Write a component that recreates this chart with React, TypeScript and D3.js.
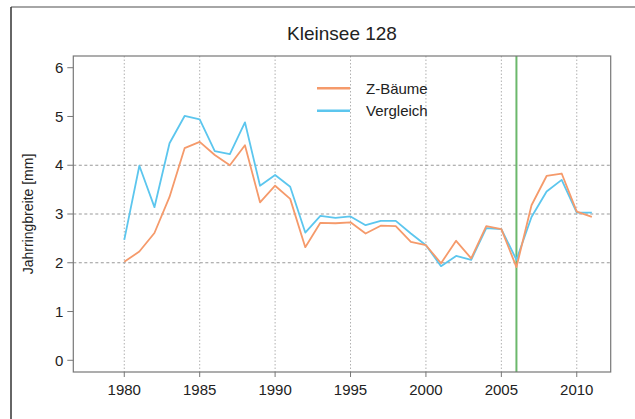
import React from "react";
import * as d3 from "d3";

const years = [1980,1981,1982,1983,1984,1985,1986,1987,1988,1989,1990,1991,1992,1993,1994,1995,1996,1997,1998,1999,2000,2001,2002,2003,2004,2005,2006,2007,2008,2009,2010,2011];
const zBaeume = [2.02,2.23,2.61,3.35,4.35,4.48,4.21,4.0,4.41,3.24,3.58,3.31,2.32,2.82,2.81,2.83,2.6,2.76,2.75,2.43,2.36,1.99,2.45,2.09,2.75,2.69,1.91,3.18,3.78,3.83,3.05,2.94];
const vergleich = [2.47,3.99,3.14,4.45,5.01,4.94,4.29,4.23,4.88,3.58,3.8,3.56,2.62,2.96,2.92,2.95,2.77,2.86,2.86,2.6,2.36,1.93,2.14,2.06,2.71,2.69,2.06,2.94,3.46,3.7,3.03,3.03];
const xTicks = [1980,1985,1990,1995,2000,2005,2010];
const yTicks = [0,1,2,3,4,5,6];
const hGrid = [2,3,4];
const markerYear = 2006;
const title = "Kleinsee 128";
const yLabel = "Jahrringbreite [mm]";
const seriesNames = ["Z-Bäume", "Vergleich"];

const W = 635, H = 419;
const L = 73.3, R = 610.7, T = 56, B = 372;
const ORANGE = "#f59a6b";
const BLUE = "#5cc6ee";
const GREEN = "#6cb86c";
const FONT = "'Liberation Sans', Arial, Helvetica, sans-serif";

export default function App() {
  const x = d3.scaleLinear().domain([1976.62, 2012.25]).range([L, R]);
  const y = d3.scaleLinear().domain([-0.24, 6.24]).range([B, T]);
  const line = d3.line<number>().x((_, i) => x(years[i])).y((v) => y(v));

  return (
    <svg width={W} height={H} style={{ position: "absolute", left: 0, top: 0, background: "#fff" }} fontFamily={FONT}>
      <rect x={0} y={0} width={W} height={H} fill="#fff" />
      {/* outer frame */}
      <line x1={11} y1={7} x2={W} y2={7} stroke="#888" strokeWidth={1.5} />
      <line x1={11} y1={7} x2={11} y2={H} stroke="#333" strokeWidth={1.5} />

      {/* vertical grid */}
      {xTicks.map((t) => (
        <line key={"vg" + t} x1={x(t)} x2={x(t)} y1={T} y2={B} stroke="#b0b0b0" strokeWidth={1} strokeDasharray="1.5,2" />
      ))}
      {/* horizontal grid */}
      {hGrid.map((t) => (
        <line key={"hg" + t} x1={L} x2={R} y1={y(t)} y2={y(t)} stroke="#999" strokeWidth={1.2} strokeDasharray="3,2.5" />
      ))}

      {/* marker year */}
      <line x1={x(markerYear)} x2={x(markerYear)} y1={T} y2={B} stroke={GREEN} strokeWidth={2} />

      {/* series */}
      <path d={line(vergleich) || ""} fill="none" stroke={BLUE} strokeWidth={1.8} strokeLinejoin="round" />
      <path d={line(zBaeume) || ""} fill="none" stroke={ORANGE} strokeWidth={1.8} strokeLinejoin="round" />

      {/* box */}
      <rect x={L} y={T} width={R - L} height={B - T} fill="none" stroke="#777" strokeWidth={1.2} />

      {/* y axis ticks */}
      {yTicks.map((t) => (
        <g key={"yt" + t}>
          <line x1={L - 6} x2={L} y1={y(t)} y2={y(t)} stroke="#777" strokeWidth={1} />
          <text x={L - 10} y={y(t)} dy="0.35em" textAnchor="end" fontSize={15} fill="#222">{t}</text>
        </g>
      ))}
      {/* x axis ticks */}
      {xTicks.map((t) => (
        <g key={"xt" + t}>
          <line x1={x(t)} x2={x(t)} y1={B} y2={B + 5} stroke="#777" strokeWidth={1} />
          <text x={x(t)} y={395} textAnchor="middle" fontSize={15} fill="#222">{t}</text>
        </g>
      ))}

      {/* y label */}
      <text transform={`translate(33,${y(3)}) rotate(-90)`} textAnchor="middle" fontSize={14} fill="#222">{yLabel}</text>

      {/* title */}
      <text x={(L + R) / 2} y={40} textAnchor="middle" fontSize={19} fill="#222">{title}</text>

      {/* legend */}
      {seriesNames.map((n, i) => (
        <g key={n}>
          <line x1={317} x2={350} y1={88.3 + i * 22.4} y2={88.3 + i * 22.4} stroke={i === 0 ? ORANGE : BLUE} strokeWidth={2.5} />
          <text x={366} y={88.3 + i * 22.4} dy="0.35em" fontSize={15} fill="#222">{n}</text>
        </g>
      ))}
    </svg>
  );
}
